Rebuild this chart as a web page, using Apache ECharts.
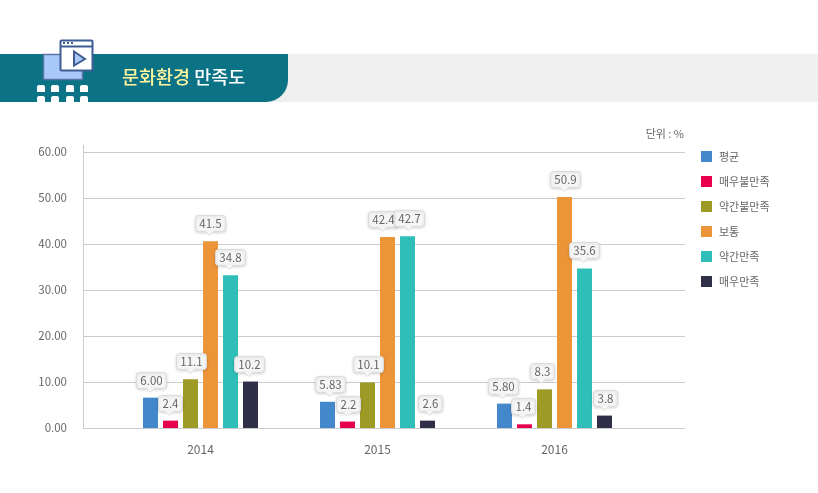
<!DOCTYPE html>
<html>
<head>
<meta charset="utf-8">
<style>
  html, body { margin: 0; padding: 0; background: #fff; }
  #chart { width: 818px; height: 493px; }
</style>
<script src="https://cdn.jsdelivr.net/npm/echarts@6/dist/echarts.min.js"></script>
</head>
<body>
<div id="chart"></div>
<script>
const FONT = '"Noto Sans CJK KR", "Noto Sans", sans-serif';

const years = ['2014', '2015', '2016'];
const names = ['평균', '매우불만족', '약간불만족', '보통', '약간만족', '매우만족'];
const colors = ['#4488cc', '#e8004f', '#9e9a26', '#ec9438', '#2fbfb8', '#2f2f4a'];
const yTicks = ['0.00', '10.00', '20.00', '30.00', '40.00', '50.00', '60.00'];

// 막대 높이
const avgBars = [6.6, 5.7, 5.3];
const veryBadBars = [1.6, 1.4, 0.8];
const badBars = [10.6, 9.9, 8.4];
const normalBars = [40.6, 41.5, 50.2];
const goodBars = [33.2, 41.7, 34.7];
const veryGoodBars = [10.1, 1.6, 2.7];

// 말풍선에 적힌 값 (막대 높이와 다름)
const avgLabels = ['6.00', '5.83', '5.80'];
const veryBadLabels = ['2.4', '2.2', '1.4'];
const badLabels = ['11.1', '10.1', '8.3'];
const normalLabels = ['41.5', '42.4', '50.9'];
const goodLabels = ['34.8', '42.7', '35.6'];
const veryGoodLabels = ['10.2', '2.6', '3.8'];

const barSets = [avgBars, veryBadBars, badBars, normalBars, goodBars, veryGoodBars];
const labelSets = [avgLabels, veryBadLabels, badLabels, normalLabels, goodLabels, veryGoodLabels];

const measure = document.createElement('canvas').getContext('2d');
measure.font = '11.5px ' + FONT;

// 말풍선 가로 보정 (px), 겹침 피하려고 조금씩 밀어둠
const nudge = [
  [0, 2, -2.5],
  [-1, 0, -2.5],
  [0, -0.5, -3],
  [-1.5, -5, 0],
  [-1.5, 1, -1],
  [-2, 2, 0]
];

// 말풍선 하나 그리기
function renderBubble(params, api) {
  const cat = api.value(0);
  const val = api.value(1);
  const idx = api.value(2);
  const text = labelSets[idx][cat];
  const pt = api.coord([cat, val]);
  const x = Math.round(pt[0] + (idx - 2.5) * 20 + nudge[idx][cat] - 0.5) + 0.5;
  const tip = Math.round(pt[1]) - 5.5;
  const boxH = 16;
  const boxW = Math.round(measure.measureText(text).width) + 8;
  const left = Math.round(x - boxW / 2) + 0.5;
  const top = tip - 4 - boxH;
  const fill = '#f6f6f6';
  const line = '#dcdcdc';
  return {
    type: 'group',
    children: [
      {
        type: 'rect',
        shape: { x: left, y: top, width: boxW, height: boxH, r: 3 },
        style: { fill: fill, stroke: line, lineWidth: 1, shadowBlur: 3, shadowColor: 'rgba(0,0,0,0.15)', shadowOffsetY: 1 }
      },
      {
        type: 'polygon',
        shape: { points: [[x - 4, top + boxH - 0.5], [x + 4, top + boxH - 0.5], [x, tip]] },
        style: { fill: fill }
      },
      {
        type: 'polyline',
        shape: { points: [[x - 4, top + boxH], [x, tip], [x + 4, top + boxH]] },
        style: { fill: 'none', stroke: line, lineWidth: 1 }
      },
      {
        type: 'text',
        style: {
          x: left + boxW / 2, y: top + boxH / 2, text: text, align: 'center', verticalAlign: 'middle',
          font: '11.5px ' + FONT, fill: '#666'
        }
      }
    ]
  };
}

const bubbleData = [];
barSets.forEach((set, idx) => {
  set.forEach((v, cat) => bubbleData.push([cat, v, idx]));
});

const series = names.map((name, i) => ({
  name: name,
  type: 'bar',
  xAxisIndex: 1,
  yAxisIndex: 1,
  barWidth: 15,
  barGap: '33.34%',
  itemStyle: { color: colors[i] },
  data: barSets[i]
}));
series.push({
  type: 'custom',
  xAxisIndex: 1,
  yAxisIndex: 1,
  z: 10,
  clip: false,
  renderItem: renderBubble,
  data: bubbleData
});

// 머리 띠 장식
const header = [
  { type: 'rect', shape: { x: 0, y: 54, width: 818, height: 48 }, style: { fill: '#efefef' } },
  { type: 'rect', shape: { x: 0, y: 54, width: 288, height: 48, r: [0, 0, 22, 0] }, style: { fill: '#0b7385' } },
  { type: 'rect', shape: { x: 43.5, y: 54.5, width: 39, height: 25 }, style: { fill: '#a9c9fb', stroke: '#5a74a8', lineWidth: 1.5 } },
  { type: 'rect', shape: { x: 60.5, y: 40.5, width: 32, height: 30, r: 1 }, style: { fill: '#fff', stroke: '#3f5d94', lineWidth: 2 } },
  { type: 'line', shape: { x1: 60, y1: 46.5, x2: 93, y2: 46.5 }, style: { stroke: '#3f5d94', lineWidth: 2 } },
  { type: 'polygon', shape: { points: [[74, 51.5], [85, 59], [74, 65.5]] }, style: { fill: '#a9c9fb', stroke: '#3f5d94', lineWidth: 2 } },
  { type: 'line', shape: { x1: 83.5, y1: 145, x2: 83.5, y2: 153 }, style: { stroke: '#cccccc', lineWidth: 1 } }
];
[64, 68, 72].forEach(x => {
  header.push({ type: 'rect', shape: { x: x - 1, y: 42, width: 2, height: 2 }, style: { fill: '#3f5d94' } });
});
[37, 51, 66, 80].forEach(x => {
  [85, 96].forEach(y => {
    header.push({ type: 'rect', shape: { x: x, y: y, width: 8, height: y === 85 ? 7 : 6, r: [2, 2, 0, 0] }, style: { fill: '#fff' } });
  });
});
header.push({
  type: 'text',
  style: { x: 684, y: 134, text: '단위 : %', align: 'right', verticalAlign: 'middle', font: '11px ' + FONT, fill: '#666' }
});

const chart = echarts.init(document.getElementById('chart'));
chart.setOption({
  animation: false,
  backgroundColor: '#fff',
  textStyle: { fontFamily: FONT },
  title: {
    left: 122,
    top: 68,
    padding: 0,
    text: '{a|문화환경} {b|만족도}',
    textStyle: {
      rich: {
        a: { fontFamily: FONT, fontSize: 18.5, fontWeight: 500, color: '#fff59e' },
        b: { fontFamily: FONT, fontSize: 18.5, fontWeight: 500, color: '#ffffff' }
      }
    }
  },
  legend: {
    left: 701,
    top: 151,
    orient: 'vertical',
    padding: 0,
    itemWidth: 11,
    itemHeight: 11,
    itemGap: 14,
    icon: 'rect',
    data: names,
    selectedMode: false,
    textStyle: { color: '#666', fontSize: 11, fontFamily: FONT, padding: [0, 0, 0, 2] }
  },
  grid: [
    { left: 83, width: 602, top: 152, height: 276 },
    { left: 112, width: 531, top: 152, height: 276 }
  ],
  xAxis: [
    { gridIndex: 0, type: 'value', min: 0, max: 1, show: false },
    {
      gridIndex: 1,
      type: 'category',
      data: years,
      axisLine: { show: false },
      axisTick: { show: false },
      axisLabel: { color: '#666', fontSize: 12, margin: 15, fontFamily: FONT }
    }
  ],
  yAxis: [
    {
      gridIndex: 0,
      type: 'value',
      min: 0,
      max: 60,
      interval: 10,
      axisLine: { show: true, lineStyle: { color: '#cccccc' } },
      axisTick: { show: false },
      axisLabel: {
        color: '#666',
        fontSize: 11.5,
        margin: 16,
        fontFamily: FONT,
        formatter: (v) => yTicks[v / 10]
      },
      splitLine: { lineStyle: { color: '#cccccc' } }
    },
    { gridIndex: 1, type: 'value', min: 0, max: 60, interval: 10, show: false, splitLine: { show: false } }
  ],
  graphic: header,
  series: series
});
</script>
</body>
</html>
